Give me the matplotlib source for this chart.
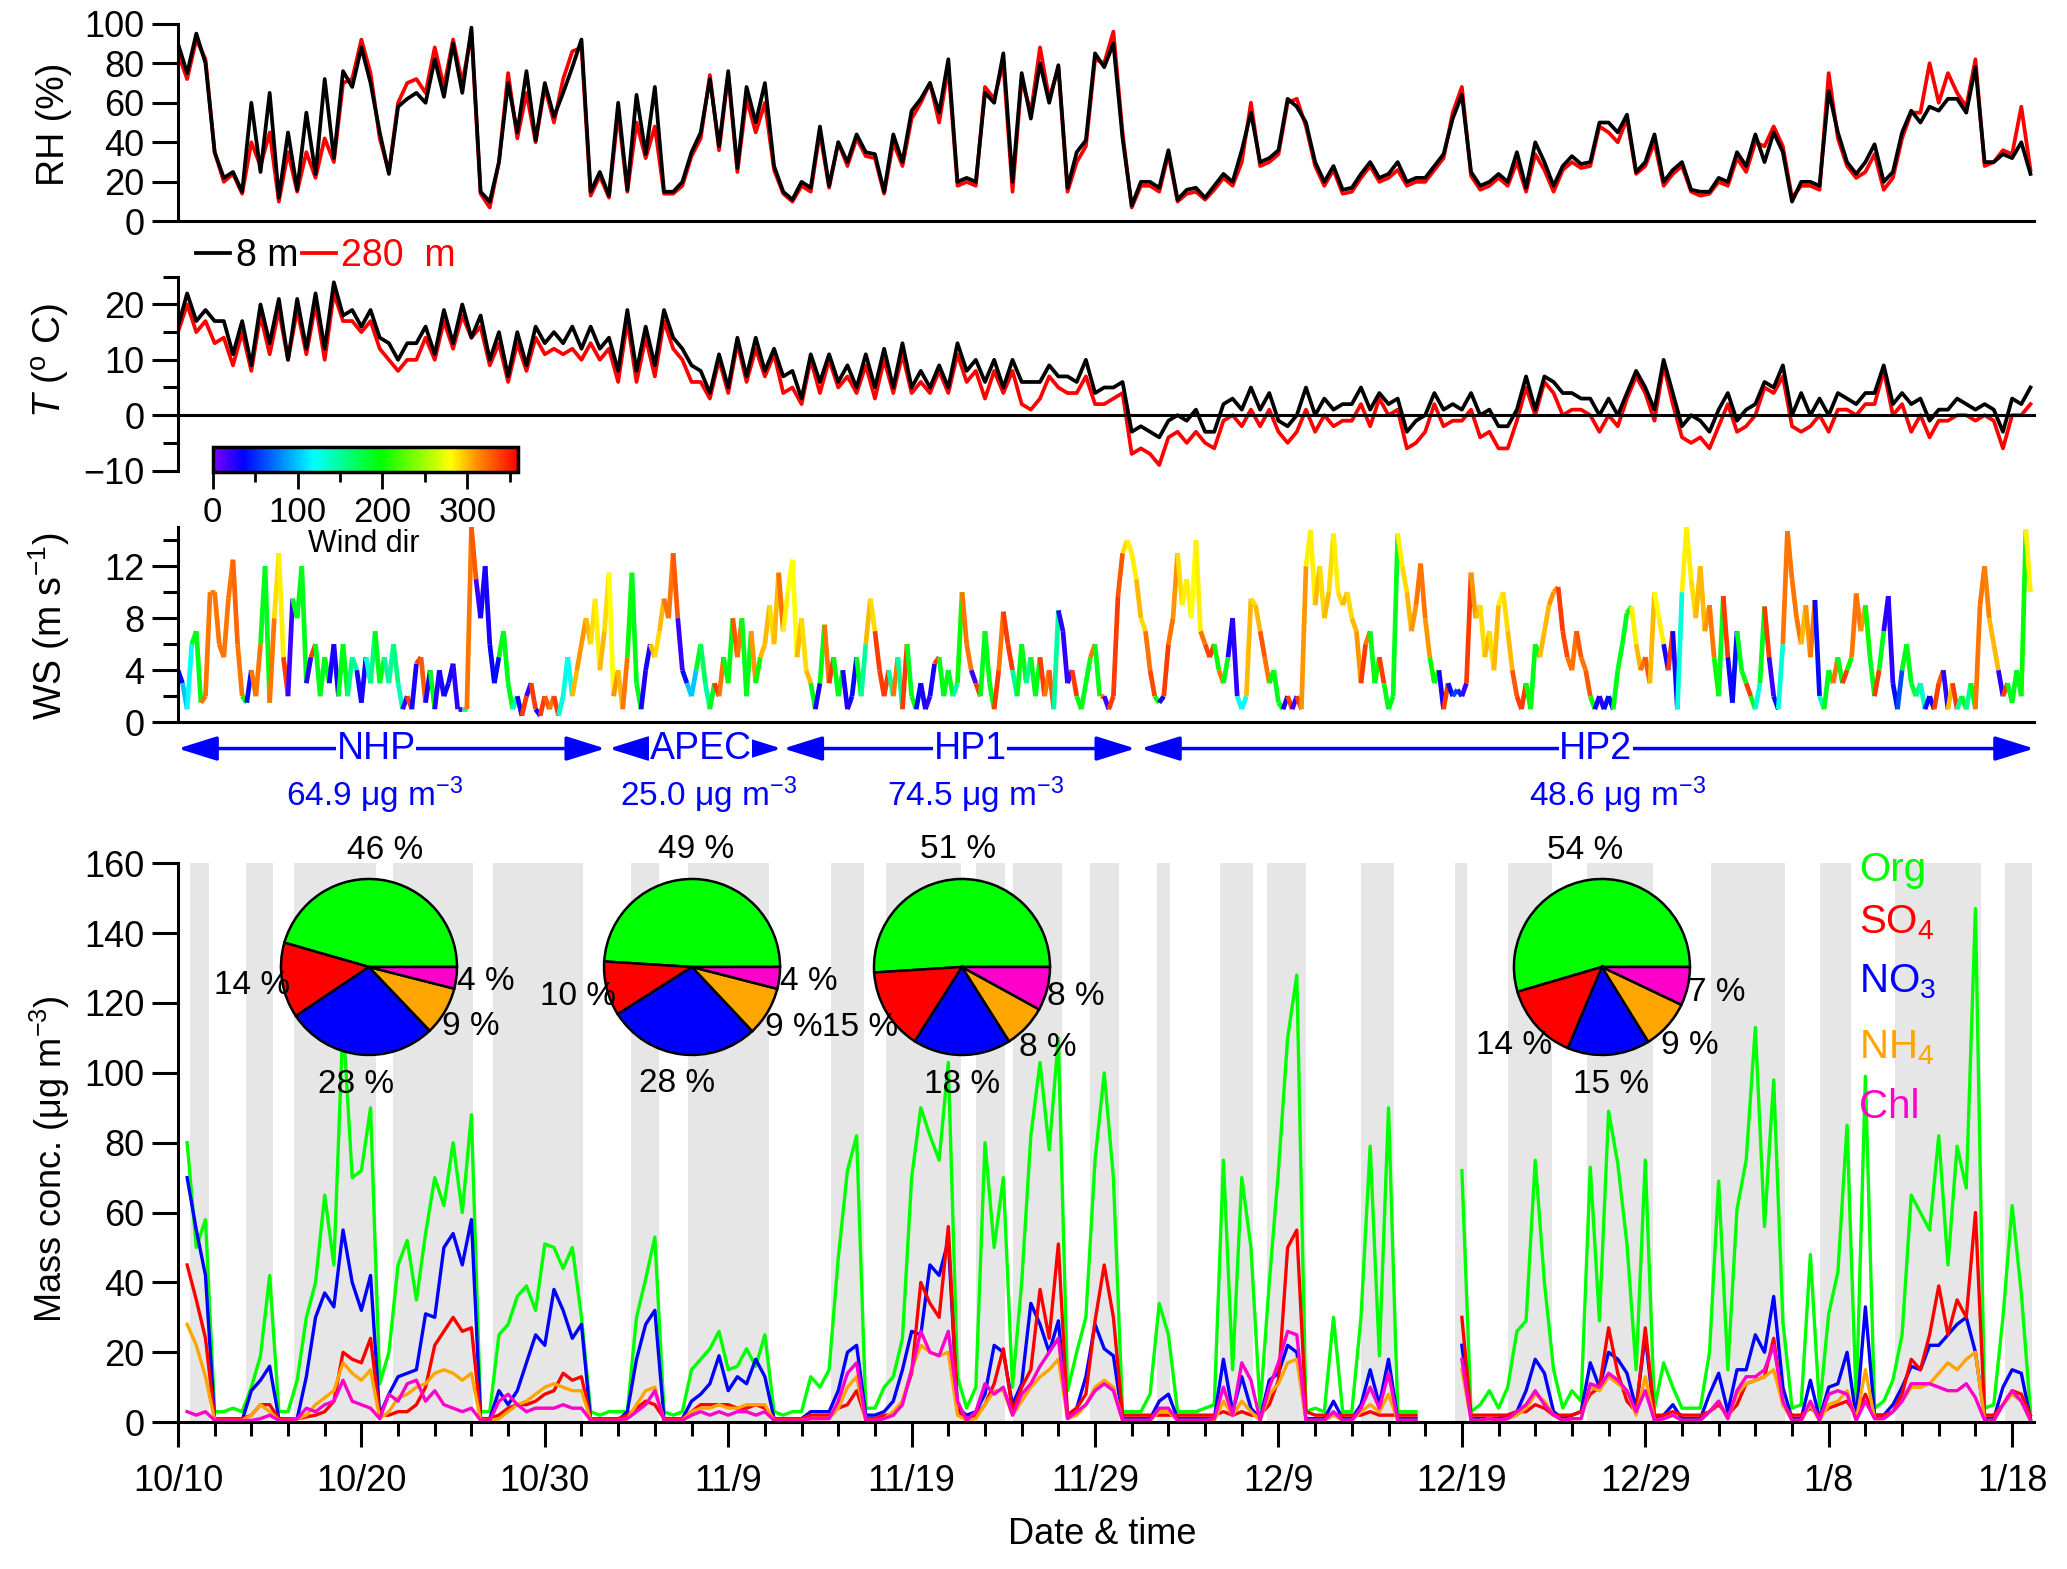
import numpy as np
import matplotlib
matplotlib.use('Agg')
import matplotlib.pyplot as plt
from matplotlib.collections import LineCollection
from matplotlib.colors import LinearSegmentedColormap, Normalize
from matplotlib.cm import ScalarMappable
from matplotlib.transforms import blended_transform_factory

plt.rcParams['font.family'] = ['Liberation Sans', 'DejaVu Sans']
plt.rcParams['mathtext.fontset'] = 'custom'
plt.rcParams['mathtext.rm'] = 'Liberation Sans'
plt.rcParams['mathtext.it'] = 'Liberation Sans:italic'
plt.rcParams['mathtext.bf'] = 'Liberation Sans:bold'

# time axis: days after 10/10 00:00, one reading every 12 h (6 h for wind)
t = np.arange(0, 101.01, 0.5)
t_wind = np.arange(0, 101.01, 0.25)
nan = np.nan

# relative humidity (%) at 8 m and 280 m
rh_8 = [90, 75, 95, 80, 35, 22, 25, 15, 60, 25,
        65, 12, 45, 16, 55, 24, 72, 32, 76, 68,
        88, 70, 45, 24, 58, 62, 65, 60, 82, 63,
        90, 65, 98, 15, 10, 30, 70, 45, 76, 41,
        70, 53, 65, 78, 92, 15, 25, 13, 60, 16,
        64, 34, 68, 15, 15, 20, 35, 45, 72, 38,
        76, 27, 68, 50, 70, 28, 15, 11, 20, 17,
        48, 18, 40, 30, 44, 35, 34, 15, 44, 30,
        56, 62, 70, 55, 82, 20, 22, 20, 65, 60,
        85, 20, 75, 52, 80, 60, 79, 17, 35, 41,
        85, 78, 90, 42, 8, 20, 20, 17, 36, 11,
        16, 17, 12, 18, 24, 20, 36, 55, 30, 32,
        36, 62, 58, 50, 30, 20, 28, 16, 17, 24,
        30, 22, 24, 30, 20, 22, 22, 28, 34, 52,
        64, 25, 18, 20, 24, 20, 35, 17, 40, 30,
        18, 28, 33, 29, 30, 50, 50, 45, 54, 25,
        30, 44, 20, 26, 30, 16, 15, 15, 22, 20,
        35, 28, 44, 30, 45, 35, 10, 20, 20, 18,
        66, 45, 30, 24, 30, 39, 20, 25, 45, 56,
        50, 58, 56, 62, 62, 55, 78, 30, 30, 34,
        32, 40, 24]
rh_280 = [85, 72, 92, 82, 35, 20, 24, 14, 40, 28,
          45, 10, 35, 15, 35, 22, 42, 30, 70, 72,
          92, 75, 42, 25, 60, 70, 72, 65, 88, 68,
          92, 70, 95, 14, 7, 30, 75, 42, 65, 40,
          68, 50, 72, 86, 88, 13, 23, 12, 55, 15,
          50, 32, 48, 14, 14, 18, 33, 42, 74, 36,
          74, 25, 62, 45, 60, 26, 14, 10, 18, 15,
          45, 17, 40, 28, 42, 33, 32, 14, 40, 28,
          52, 60, 70, 50, 78, 18, 20, 18, 68, 62,
          80, 15, 72, 55, 88, 62, 78, 15, 30, 38,
          82, 80, 96, 45, 7, 18, 18, 15, 34, 10,
          14, 15, 11, 16, 22, 18, 30, 60, 28, 30,
          34, 60, 62, 48, 28, 18, 26, 14, 15, 22,
          28, 20, 22, 26, 18, 20, 20, 26, 32, 55,
          68, 23, 16, 18, 22, 18, 30, 15, 34, 26,
          15, 26, 30, 27, 28, 48, 45, 40, 52, 24,
          28, 40, 18, 24, 28, 15, 13, 14, 20, 18,
          32, 25, 40, 38, 48, 38, 12, 18, 18, 16,
          75, 42, 28, 22, 25, 34, 16, 22, 42, 55,
          55, 80, 60, 75, 65, 58, 82, 28, 30, 36,
          34, 58, 26]

# temperature (degC) at 8 m and 280 m
t_8 = [16, 22, 17, 19, 17, 17, 11, 17, 9, 20,
       13, 21, 10, 21, 12, 22, 12, 24, 18, 19,
       16, 19, 14, 13, 10, 13, 13, 16, 11, 19,
       13, 20, 14, 18, 10, 15, 7, 15, 9, 16,
       13, 15, 13, 16, 12, 16, 12, 14, 8, 19,
       8, 16, 9, 19, 14, 12, 9, 8, 4, 11,
       5, 14, 7, 14, 8, 12, 7, 8, 3, 11,
       6, 11, 6, 9, 5, 11, 5, 12, 5, 13,
       5, 8, 5, 9, 5, 13, 8, 10, 6, 10,
       5, 10, 6, 6, 6, 9, 7, 7, 6, 10,
       4, 5, 5, 6, -3, -2, -3, -4, -1, 0,
       -1, 1, -3, -3, 2, 3, 1, 5, 1, 4,
       -1, -2, 0, 5, 0, 3, 1, 2, 2, 5,
       1, 4, 2, 3, -3, -1, 0, 4, 1, 2,
       1, 4, 0, 1, -2, -2, 1, 7, 1, 7,
       6, 4, 4, 3, 3, 0, 3, 0, 4, 8,
       5, 1, 10, 4, -2, 0, -1, -3, 1, 4,
       -1, 1, 2, 6, 5, 9, 0, 4, 0, 3,
       0, 4, 3, 2, 4, 4, 9, 2, 4, 2,
       3, -1, 1, 1, 3, 2, 1, 2, 1, -3,
       3, 2, 5]
t_280 = [15, 20, 15, 17, 13, 14, 9, 15, 8, 18,
         11, 19, 10, 19, 11, 20, 10, 22, 17, 17,
         15, 17, 12, 10, 8, 10, 10, 14, 10, 17,
         12, 18, 14, 16, 9, 13, 6, 13, 8, 14,
         11, 12, 11, 12, 10, 13, 10, 12, 6, 17,
         6, 14, 7, 17, 12, 10, 6, 6, 3, 10,
         4, 13, 6, 12, 7, 11, 4, 5, 2, 10,
         4, 10, 5, 7, 4, 9, 3, 10, 4, 11,
         4, 6, 4, 8, 4, 11, 6, 8, 3, 8,
         4, 8, 2, 1, 3, 7, 5, 4, 4, 7,
         2, 2, 3, 4, -7, -6, -7, -9, -4, -3,
         -5, -3, -5, -6, -1, 0, -2, 1, -2, 1,
         -3, -5, -3, 1, -3, 0, -2, -1, -1, 2,
         -2, 3, 0, 1, -6, -5, -3, 2, -2, -1,
         -1, 1, -4, -3, -6, -6, -1, 5, 0, 6,
         4, 0, 1, 1, 0, -3, 0, -2, 3, 7,
         4, -1, 9, 2, -4, -5, -4, -6, -2, 2,
         -3, -2, 0, 5, 4, 7, -2, -3, -2, 0,
         -3, 1, 1, 0, 2, 2, 8, 0, 2, -3,
         0, -4, -1, -1, 0, 0, -1, 0, -1, -6,
         0, 0, 2]

# wind speed (m/s), one row per day
ws = [4, 3, 1, 6,  7, 1.5, 2, 10,  10, 6, 5, 9.5,  12.5, 6, 2, 1.5,  4, 2, 6, 12,
      1.5, 8, 13, 5,  2, 9.5, 8, 12,  3, 5, 6, 2,  5, 3, 6, 2,  6, 2, 5, 4,
      1.5, 5, 3, 7,  3, 5, 3, 6,  3, 1, 2, 1,  4.5, 5, 1.5, 4,  1, 4, 2, 3,
      4.5, 1, 1, 1,  15, 11, 8, 12,  6, 3, 5, 7,  3, 1, 2, 0.5,  2, 3, 1, 0.5,
      2, 1, 2, 0.5,  2, 5, 2, 4,  6, 8, 6, 9.5,  4, 7, 11.5, 2,  4, 1, 5, 11.5,
      3, 1, 4, 6,  5, 7, 9.5, 8,  13, 8, 4, 3,  2, 4, 6, 3,  1, 3, 2, 5,
      3, 8, 5, 8,  2, 7, 3, 5,  6, 9, 6, 11.5,  7, 10, 12.5, 5,  8, 4, 3, 1,
      3, 7.5, 3, 5,  2, 4, 1, 2,  5, 2, 6, 9.5,  7, 4, 2, 4,  2, 5, 1, 6,
      2, 1, 3, 1,  2, 4.5, 5, 2,  4, 2, 3, 10,  6, 4, 3, 2,  7, 3, 1, 4,
      8.5, 6, 4, 2,  6, 3, 5, 2,  5, 2, 4, 1,  8.6, 7, 3, 4,  2, 1, 3, 5,
      6, 2, 2, 1,  2, 9.7, 13, 14,  13, 11, 8, 7,  4, 2, 1.5, 2,  6, 8, 13, 9,
      11, 8, 14, 7,  6, 5, 6, 4,  3, 5, 8, 2,  1, 2, 9.5, 9,  7, 5, 3, 4,
      1.5, 1, 2, 1,  2, 1, 12, 14.8,  9, 12, 8, 10,  14.5, 10, 9, 10,  8, 7, 3, 6,
      7, 3, 5, 3,  1, 2, 14.5, 12,  10, 7, 9, 12.2,  8, 5, 3, 4,  1, 3, 2, 2.5,
      2, 3, 11.5, 8,  9, 5, 7, 4,  9, 10, 7, 4,  2, 1, 3, 1,  6, 5, 7, 9,
      10, 10.4, 7, 5,  4, 7, 5, 4,  2, 1, 2, 1,  2, 1, 4, 6,  8.4, 8.9, 6, 4,
      5, 3, 10, 8,  6, 4, 7, 1,  10, 15, 11, 8,  12, 7, 9, 5,  2, 9.7, 5, 1.5,
      7, 4, 3, 2,  1, 3, 8.9, 5,  2, 1, 6, 14.7,  11, 8, 6, 9,  5, 9.4, 2, 1,
      4, 3, 5, 3,  4, 5, 9.9, 7,  9, 5, 2, 4,  7, 9.7, 3, 1,  4, 6, 3, 2,
      3, 1, 2, 1,  3, 4, 1, 3,  1, 2, 1, 3,  1, 9, 12, 8,  6, 4, 2, 3,
      1.5, 4, 2, 14.8,  10]
# wind direction (deg), one row per day
wd = [40, 100, 120, 190,  190, 320, 320, 320,  320, 320, 320, 320,  325, 320, 200, 40,
      320, 320, 190, 190,  320, 290, 285, 340,  20, 190, 190, 190,  25, 340, 190, 190,
      190, 30, 30, 190,  190, 160, 150, 30,  30, 130, 160, 190,  190, 150, 150, 160,
      140, 20, 340, 30,  340, 330, 30, 190,  25, 30, 40, 30,  25, 20, 150, 320,
      330, 20, 30, 30,  35, 40, 190, 190,  190, 140, 30, 340,  20, 340, 30, 340,
      330, 320, 340, 130,  130, 120, 300, 310,  310, 300, 290, 285,  300, 290, 280, 310,
      300, 320, 200, 190,  190, 30, 30, 300,  290, 300, 320, 320,  330, 20, 40, 100,
      100, 190, 170, 150,  190, 340, 320, 190,  190, 330, 320, 190,  190, 310, 200, 300,
      300, 290, 300, 320,  285, 280, 280, 300,  290, 300, 190, 30,  190, 320, 340, 190,
      190, 30, 30, 40,  190, 150, 300, 290,  340, 340, 340, 150,  320, 150, 340, 190,
      190, 40, 30, 25,  30, 340, 190, 190,  190, 150, 200, 320,  320, 20, 340, 190,
      190, 190, 340, 320,  340, 340, 150, 190,  190, 150, 190, 190,  340, 320, 330, 150,
      25, 25, 20, 340,  190, 190, 190, 320,  190, 320, 20, 340,
      340, 330, 290, 285,  285, 300, 290, 320,  335, 200, 30, 340,  320, 310, 290, 285,
      285, 280, 285, 320,  335, 340, 200, 320,  190, 30, 25, 120,  120, 300, 290, 300,
      330, 320, 200, 190,  190, 30, 340, 20,  340, 310, 285, 285,  300, 290, 300, 290,
      285, 290, 300, 290,  300, 310, 340, 320,  190, 200, 340, 190,  190, 190, 285, 290,
      300, 310, 320, 320,  310, 200, 190, 30,  340, 40, 60, 50,  20, 340, 310, 300,
      290, 300, 290, 300,  285, 290, 300, 330,  340, 340, 200, 190,  190, 300, 300, 310,
      310, 340, 335, 320,  320, 330, 320, 330,  200, 30, 25, 40,  40, 190, 190, 190,
      190, 285, 300, 320,  330, 300, 280, 285,  30, 340, 30, 130,  285, 285, 290, 300,
      300, 310, 320, 200,  190, 340, 30, 40,  190, 190, 340, 190,  130, 190, 340, 20,
      40, 130, 320, 320,  320, 320, 300, 310,  320, 40, 140, 190,  200, 320, 190, 340,
      200, 320, 320, 310,  200, 190, 340, 190,  25, 25, 40, 60,  190, 190, 180, 160,
      140, 40, 30, 340,  330, 25, 300, 340,  150, 190, 150, 200,  320, 320, 315, 300,
      300, 25, 340, 190,  190, 190, 200, 285,  285]

# PM1 species (ug/m3)
org = [nan, 80, 50, 58, 3, 3, 4, 3, 10, 19,
       42, 3, 3, 12, 30, 40, 65, 45, 115, 70,
       72, 90, 11, 20, 45, 52, 35, 54, 70, 62,
       80, 60, 88, 3, 3, 25, 28, 36, 39, 32,
       51, 50, 44, 50, 30, 3, 2, 3, 3, 3,
       30, 41, 53, 3, 2, 3, 15, 18, 21, 26,
       15, 16, 21, 16, 25, 3, 2, 3, 3, 13,
       10, 15, 47, 72, 82, 4, 4, 10, 13, 24,
       70, 90, 82, 75, 103, 13, 4, 10, 80, 50,
       70, 10, 40, 82, 103, 78, 110, 9, 20, 30,
       75, 100, 70, 3, 3, 3, 8, 34, 25, 3,
       3, 3, 4, 5, 75, 15, 70, 50, 4, 40,
       72, 110, 128, 3, 4, 3, 30, 3, 3, 30,
       79, 19, 90, 3, 3, 3, nan, nan, nan, nan,
       72, 3, 5, 9, 4, 10, 26, 29, 75, 40,
       15, 4, 9, 6, 73, 29, 89, 74, 51, 15,
       75, 4, 17, 10, 4, 4, 4, 20, 69, 15,
       61, 75, 113, 56, 98, 29, 4, 5, 48, 4,
       31, 43, 85, 5, 99, 4, 6, 12, 25, 65,
       60, 55, 82, 45, 79, 67, 147, 4, 5, 30,
       62, 37, 3]
no3 = [nan, 70, 55, 42, 0.5, 0.5, 0.5, 0.5, 9, 12,
       16, 1, 1, 1, 13, 30, 37, 33, 55, 40,
       32, 42, 2, 8, 13, 14, 15, 31, 30, 50,
       54, 45, 58, 1, 1, 9, 5, 9, 17, 25,
       22, 38, 32, 24, 28, 0.5, 0.5, 0.5, 0.5, 3,
       18, 28, 32, 1, 1, 1, 6, 8, 11, 19,
       9, 13, 11, 18, 13, 1, 1, 1, 1, 3,
       3, 3, 9, 20, 22, 2, 2, 3, 6, 15,
       26, 25, 45, 42, 52, 4, 2, 3, 8, 22,
       20, 5, 11, 34, 28, 20, 29, 2, 4, 13,
       28, 21, 19, 1, 1, 1, 1, 6, 8, 1,
       1, 1, 1, 1, 18, 3, 13, 4, 1, 12,
       14, 22, 20, 1, 1, 1, 6, 1, 1, 5,
       15, 5, 18, 1, 1, 1, nan, nan, nan, nan,
       22, 1, 1, 1, 1, 2, 3, 9, 18, 14,
       3, 1, 2, 3, 17, 10, 20, 18, 14, 4,
       25, 1, 2, 5, 1, 1, 1, 8, 14, 3,
       15, 15, 25, 20, 36, 10, 1, 1, 12, 1,
       10, 11, 20, 1, 33, 2, 2, 5, 10, 16,
       15, 22, 22, 25, 28, 30, 20, 1, 1, 10,
       15, 14, 1]
so4 = [nan, 45, 35, 24, 1, 1, 1, 1, 2, 5,
       5, 1, 1, 1, 1.5, 2, 3, 6, 20, 18,
       17, 24, 2, 2, 3, 3, 5, 10, 22, 26,
       30, 26, 27, 1, 1, 2, 4, 5, 5, 6,
       8, 9, 14, 12, 13, 1, 1, 1, 1, 2,
       4, 6, 5, 1, 1, 1, 3, 5, 5, 5,
       5, 4, 4, 5, 4, 1, 1, 1, 1, 2,
       2, 2, 4, 5, 9, 1, 1, 2, 2, 6,
       14, 40, 34, 30, 56, 3, 1, 2, 5, 11,
       21, 3, 10, 15, 38, 24, 51, 2, 4, 8,
       29, 45, 30, 2, 2, 2, 2, 2, 2, 2,
       2, 2, 2, 2, 3, 2, 3, 2, 2, 5,
       12, 50, 55, 3, 2, 2, 2, 2, 2, 2,
       3, 2, 2, 2, 2, 2, nan, nan, nan, nan,
       30, 2, 2, 2, 2, 2, 3, 3, 5, 4,
       2, 2, 2, 3, 8, 10, 27, 14, 6, 3,
       27, 2, 2, 3, 2, 2, 2, 3, 5, 2,
       5, 11, 12, 13, 24, 5, 2, 2, 4, 2,
       4, 5, 6, 2, 8, 2, 2, 3, 8, 18,
       15, 25, 39, 25, 35, 30, 60, 2, 2, 5,
       9, 8, 2]
nh4 = [nan, 28, 22, 13, 0.5, 0.5, 0.5, 0.5, 2, 5,
       3, 0.5, 0.5, 1, 2, 5, 7, 9, 17, 14,
       12, 15, 1, 3, 7, 8, 10, 11, 14, 15,
       14, 12, 14, 0.5, 0.5, 1, 3, 5, 6, 8,
       10, 11, 10, 9, 9, 0.5, 0.5, 0.5, 0.5, 1,
       5, 9, 10, 0.5, 0.5, 0.5, 3, 4, 4, 5,
       4, 4, 5, 5, 5, 0.5, 0.5, 0.5, 0.5, 1,
       1, 1, 4, 10, 13, 0.5, 0.5, 1, 3, 6,
       15, 22, 20, 19, 20, 2, 0.5, 1, 5, 9,
       9, 2, 6, 10, 13, 15, 18, 1, 2, 5,
       10, 12, 10, 0.5, 0.5, 0.5, 0.5, 3, 3, 0.5,
       0.5, 0.5, 0.5, 0.5, 6, 2, 6, 3, 0.5, 8,
       11, 17, 18, 0.5, 0.5, 0.5, 2, 0.5, 0.5, 3,
       5, 3, 8, 0.5, 0.5, 0.5, nan, nan, nan, nan,
       15, 0.5, 0.5, 1, 0.5, 1, 2, 4, 8, 6,
       2, 0.5, 1, 1, 10, 9, 13, 11, 9, 2,
       13, 0.5, 1, 2, 0.5, 0.5, 0.5, 3, 6, 1,
       8, 11, 12, 13, 15, 5, 0.5, 0.5, 5, 0.5,
       5, 6, 9, 0.5, 15, 1, 1, 3, 6, 10,
       10, 11, 14, 17, 15, 18, 20, 0.5, 0.5, 5,
       8, 6, 0.5]
chl = [nan, 3, 2, 3, 0.5, 0.5, 0.5, 0.5, 0.5, 1,
       2, 0.5, 0.5, 1, 4, 3, 5, 6, 12, 6,
       5, 4, 1, 8, 6, 11, 12, 6, 9, 5,
       4, 3, 4, 0.5, 0.5, 6, 8, 5, 3, 4,
       4, 4, 5, 4, 4, 0.5, 0.5, 0.5, 0.5, 1,
       3, 5, 9, 0.5, 0.5, 0.5, 2, 3, 2, 3,
       2, 3, 3, 2, 3, 0.5, 0.5, 0.5, 0.5, 1,
       1, 1, 6, 14, 17, 0.5, 0.5, 1, 2, 5,
       15, 26, 20, 19, 26, 6, 0.5, 3, 11, 8,
       10, 2, 8, 11, 16, 20, 24, 1, 3, 5,
       9, 11, 9, 0.5, 0.5, 0.5, 0.5, 4, 4, 0.5,
       0.5, 0.5, 0.5, 1, 10, 2, 17, 12, 0.5, 10,
       17, 26, 25, 0.5, 0.5, 0.5, 3, 0.5, 0.5, 4,
       10, 4, 14, 0.5, 0.5, 0.5, nan, nan, nan, nan,
       18, 0.5, 0.5, 1, 0.5, 1, 3, 5, 9, 5,
       2, 0.5, 1, 1, 11, 10, 14, 12, 9, 3,
       9, 0.5, 1, 2, 0.5, 0.5, 0.5, 3, 6, 1,
       9, 13, 13, 15, 22, 6, 0.5, 0.5, 6, 0.5,
       8, 9, 8, 0.5, 6, 1, 1, 3, 6, 11,
       11, 11, 10, 9, 9, 11, 7, 0.5, 0.5, 5,
       9, 6, 0.5]

# shaded periods (days)
band_start = [0.64, 3.7, 6.3, 11.7, 17.2, 24.7, 27.8, 35.6, 38.6, 43.5, 45.5, 49.7,
              53.4, 56.8, 59.4, 64.5, 69.6, 72.5, 76.8, 83.6, 89.5, 93.6, 99.6]
band_end = [1.7, 5.2, 10.8, 16.1, 22.1, 26.2, 32.2, 37.4, 42.7, 45.1, 48.2, 51.3,
            54.1, 58.6, 61.5, 66.3, 70.3, 74.9, 80.4, 87.6, 91.2, 98.3, 101.1]

# episodes
period_names = ['NHP', 'APEC', 'HP1', 'HP2']
period_start = [0.0, 23.5, 33.0, 52.5]
period_end = [23.3, 32.9, 52.2, 101.2]
period_label_x = [10.8, 28.5, 43.2, 77.3]
period_mean = ['64.9', '25.0', '74.5', '48.6']
period_mean_x = [10.7, 28.9, 43.5, 78.5]
pie_org = [46, 49, 51, 54]
pie_so4 = [14, 10, 15, 14]
pie_no3 = [28, 28, 18, 15]
pie_nh4 = [9, 9, 8, 9]
pie_chl = [4, 4, 8, 7]

tick_days = [0, 10, 20, 30, 40, 50, 60, 70, 80, 90, 100]
tick_names = ['10/10', '10/20', '10/30', '11/9', '11/19', '11/29', '12/9', '12/19',
              '12/29', '1/8', '1/18']

for name, arr, ref in [('rh_8', rh_8, t), ('rh_280', rh_280, t), ('t_8', t_8, t),
                       ('t_280', t_280, t), ('ws', ws, t_wind), ('wd', wd, t_wind),
                       ('org', org, t), ('no3', no3, t), ('so4', so4, t),
                       ('nh4', nh4, t), ('chl', chl, t)]:
    if len(arr) != len(ref):
        raise ValueError(f'{name} has {len(arr)} values, expected {len(ref)}')

c_org, c_so4, c_no3, c_nh4, c_chl = '#00ff00', '#ff0000', '#0000ff', '#ffa500', '#ff00cc'
wind_cmap = LinearSegmentedColormap.from_list(
    'wind', [(0, '#8000ff'), (0.1, '#0000ff'), (0.33, '#00ffff'), (0.55, '#00ff00'),
             (0.78, '#ffff00'), (0.88, '#ff8000'), (1.0, '#ff0000')])
wind_norm = Normalize(0, 360)

XMAX = 101.2
LW_AX = 2.2
FS_TICK = 26
FS_LAB = 27

fig = plt.figure(figsize=(20.67, 15.69), dpi=100)
ax_rh = fig.add_axes([0.0861, 0.8589, 0.898, 0.1260])
ax_t = fig.add_axes([0.0861, 0.7001, 0.898, 0.1235])
ax_ws = fig.add_axes([0.0861, 0.5397, 0.898, 0.1243])
ax_m = fig.add_axes([0.0861, 0.0936, 0.898, 0.3562])


def style(ax):
    ax.spines['top'].set_visible(False)
    ax.spines['right'].set_visible(False)
    ax.spines['left'].set_linewidth(LW_AX)
    ax.spines['bottom'].set_linewidth(LW_AX)
    ax.tick_params(axis='y', which='major', direction='out', length=19, width=LW_AX,
                   labelsize=FS_TICK, pad=5)
    ax.tick_params(axis='y', which='minor', direction='out', length=11, width=LW_AX)
    ax.set_xlim(0, XMAX)
    ax.patch.set_alpha(0)


for ax in (ax_rh, ax_t, ax_ws):
    style(ax)
    ax.tick_params(axis='x', which='both', bottom=False, labelbottom=False)

# RH
h280, = ax_rh.plot(t, rh_280, color='red', lw=2.7)
h8, = ax_rh.plot(t, rh_8, color='black', lw=2.7)
ax_rh.set_ylim(0, 100)
ax_rh.set_yticks([0, 20, 40, 60, 80, 100])
ax_rh.set_ylabel('RH (%)', fontsize=FS_LAB)
ax_rh.yaxis.set_label_coords(-0.057, 0.49)

leg = fig.legend([h8, h280], ['8 m', '280  m'], loc='center left',
                 bbox_to_anchor=(0.095, 0.837), ncol=2, frameon=False, fontsize=27,
                 handlelength=0.9, handletextpad=0.15, columnspacing=0.1,
                 borderpad=0, borderaxespad=0)
leg.get_texts()[1].set_color('red')

# temperature
ax_t.plot(t, t_280, color='red', lw=2.7)
ax_t.plot(t, t_8, color='black', lw=2.7)
ax_t.set_ylim(-10, 25)
ax_t.spines['bottom'].set_position(('data', 0))
ax_t.set_yticks([-10, 0, 10, 20])
ax_t.set_yticks([-5, 5, 15, 25], minor=True)
ax_t.set_ylabel(r'$T$ ($^{\rm o}$ C)', fontsize=28)
ax_t.yaxis.set_label_coords(-0.057, 0.57)

# wind speed coloured by wind direction
pts = np.column_stack([t_wind, ws])
segs = np.stack([pts[:-1], pts[1:]], axis=1)
lc = LineCollection(segs, colors=wind_cmap(wind_norm(np.array(wd[:-1]))), linewidths=3.4)
ax_ws.add_collection(lc)
ax_ws.set_ylim(0, 15)
ax_ws.set_yticks([0, 4, 8, 12])
ax_ws.set_yticks([2, 6, 10, 14], minor=True)
ax_ws.set_ylabel(r'WS (m s$^{-1}$)', fontsize=FS_LAB)
ax_ws.yaxis.set_label_coords(-0.057, 0.49)

# wind direction colour bar
cax = fig.add_axes([0.1029, 0.6992, 0.1478, 0.0160])
cb = fig.colorbar(ScalarMappable(norm=wind_norm, cmap=wind_cmap), cax=cax,
                  orientation='horizontal')
cb.outline.set_linewidth(2.5)
cb.set_ticks([0, 100, 200, 300])
cax.set_xticks([50, 150, 250, 350], minor=True)
cax.tick_params(axis='x', which='major', direction='out', length=12, width=2,
                labelsize=25, pad=5)
cax.tick_params(axis='x', which='minor', direction='out', length=7, width=2)
fig.text(0.176, 0.653, 'Wind dir', fontsize=22, ha='center', va='center')

# episode arrows and mean concentrations
trans = blended_transform_factory(ax_ws.transData, ax_ws.transAxes)
for i, name in enumerate(period_names):
    ax_ws.annotate('', xy=(period_end[i], -0.135), xytext=(period_start[i], -0.135),
                   xycoords=trans, textcoords=trans, annotation_clip=False,
                   arrowprops=dict(arrowstyle='<|-|>,head_length=0.8,head_width=0.25',
                                   color='blue', lw=2.5, mutation_scale=30,
                                   shrinkA=0, shrinkB=0))
    ax_ws.text(period_label_x[i], -0.135, name, transform=trans, ha='center',
               va='center', color='blue', fontsize=27, clip_on=False,
               bbox=dict(facecolor='white', edgecolor='none', pad=0.3))
    ax_ws.text(period_mean_x[i], -0.43, period_mean[i] + r' μg m$^{-3}$',
               transform=trans, ha='center', va='baseline', color='blue',
               fontsize=24, clip_on=False)

# mass concentrations
ax_m.spines['top'].set_visible(False)
ax_m.spines['right'].set_visible(False)
ax_m.spines['left'].set_linewidth(LW_AX)
ax_m.spines['bottom'].set_linewidth(LW_AX)
for s, e in zip(band_start, band_end):
    ax_m.axvspan(s, e, color='#e6e6e6', lw=0, zorder=0)
ax_m.plot(t, org, color=c_org, lw=2.4)
ax_m.plot(t, no3, color=c_no3, lw=2.4)
ax_m.plot(t, so4, color=c_so4, lw=2.4)
ax_m.plot(t, nh4, color=c_nh4, lw=2.4)
ax_m.plot(t, chl, color=c_chl, lw=2.4)
ax_m.set_xlim(0, XMAX)
ax_m.set_ylim(0, 160)
ax_m.set_yticks(range(0, 161, 20))
ax_m.set_xticks(tick_days)
ax_m.set_xticklabels(tick_names)
ax_m.set_xticks(np.arange(0, 101, 2), minor=True)
ax_m.tick_params(axis='y', direction='out', length=19, width=LW_AX, labelsize=FS_TICK,
                 pad=5)
ax_m.tick_params(axis='x', which='major', direction='out', length=18, width=LW_AX,
                 labelsize=FS_TICK, pad=12)
ax_m.tick_params(axis='x', which='minor', direction='out', length=10, width=LW_AX)
ax_m.set_ylabel(r'Mass conc. (μg m$^{-3}$)', fontsize=26)
ax_m.yaxis.set_label_coords(-0.057, 0.47)
fig.text(0.533, 0.0217, 'Date & time', fontsize=26, ha='center', va='center')

species_labels = ['Org', r'SO$_4$', r'NO$_3$', r'NH$_4$', 'Chl']
species_colors = [c_org, c_so4, c_no3, c_nh4, c_chl]
species_y = [0.988, 0.894, 0.788, 0.67, 0.564]
for lab, col, yy in zip(species_labels, species_colors, species_y):
    ax_m.text(0.9055, yy, lab, transform=ax_m.transAxes, color=col, fontsize=29,
              va='center', ha='left')

# composition pies
pie_cx = [0.1785, 0.3348, 0.4654, 0.775]
pie_cy = 0.3837
pw, ph = 176 / 2067, 176 / 1569
for i in range(4):
    pax = fig.add_axes([pie_cx[i] - pw / 2, pie_cy - ph / 2, pw, ph])
    fr = [pie_org[i], pie_so4[i], pie_no3[i], pie_nh4[i], pie_chl[i]]
    wedges, texts = pax.pie(fr, colors=species_colors, startangle=0, counterclock=True,
                            labels=[f'{v} %' for v in fr], labeldistance=1.34,
                            wedgeprops=dict(edgecolor='black', linewidth=1.8),
                            textprops=dict(fontsize=24))
    for tx in texts:
        tx.set_ha('center')
        tx.set_va('center')
    pax.set_xlim(-1, 1)
    pax.set_ylim(-1, 1)

fig.savefig('out.png', dpi=100)
